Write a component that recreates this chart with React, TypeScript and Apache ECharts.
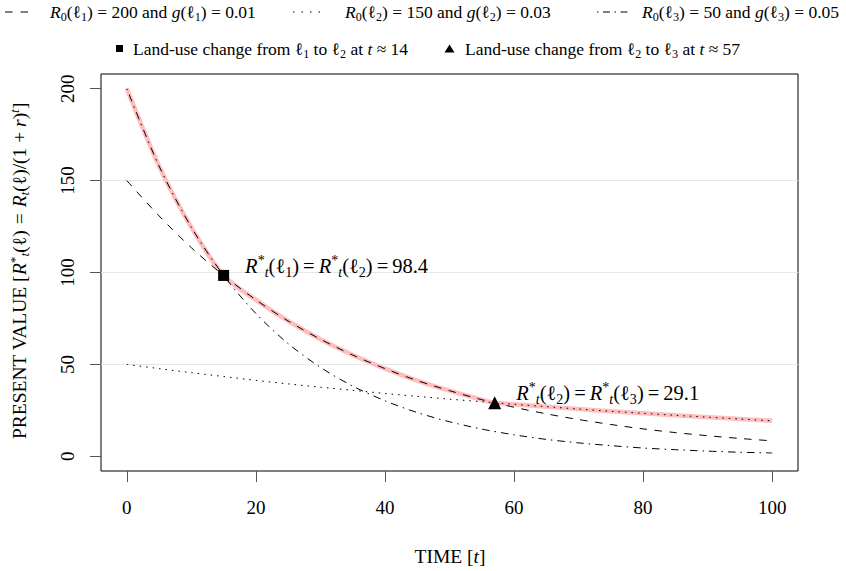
import React, { useEffect, useRef } from "react";
import * as echarts from "echarts";

// ---- data ----
const timeT = [0, 5, 10, 15, 20, 25, 30, 35, 40, 45, 50, 55, 60, 65, 70, 75, 80, 85, 90, 95, 100];
// R0 = 200 (fast decay, dash-dot)
const pvL1 = [200, 157.9, 124.6, 98.4, 77.7, 61.3, 48.4, 38.2, 30.2, 23.8, 18.8, 14.8, 11.7, 9.2, 7.3, 5.8, 4.5, 3.6, 2.8, 2.2, 1.8];
// R0 = 150 (dashed)
const pvL2 = [150, 130.8, 113.5, 98.4, 85.1, 73.6, 63.7, 55.1, 47.7, 41.2, 35.7, 30.8, 26.7, 23.1, 20.0, 17.3, 14.9, 12.9, 11.2, 9.7, 8.4];
// R0 = 50 (dotted)
const pvL3 = [50, 47.7, 45.5, 43.4, 41.3, 39.4, 37.6, 35.9, 34.2, 32.6, 31.1, 29.7, 28.3, 27.0, 25.7, 24.5, 23.4, 22.3, 21.3, 20.3, 19.3];
// land-use switch points
const switchT = [15, 57];
const switchPV = [98.4, 29.1];
const xTicks = [0, 20, 40, 60, 80, 100];
const yTicks = [0, 50, 100, 150, 200];

const FONT = "'Liberation Serif', 'DejaVu Serif', serif";
const FS_LEG = 17.5;
const FS_AX = 19;
const FS_TITLE = 19.5;
const FS_ANN = 20.5;

// colour key: "fill" for zrender graphic text, "color" for echarts labels
const makeRich = (fs: number, key: string, eqPad: number) => {
  const s = Math.round(fs * 0.69 * 10) / 10;
  const lh = Math.round(fs * 1.25);
  const c = { [key]: "#000" };
  return {
    n: { fontSize: fs, fontFamily: FONT, lineHeight: lh, ...c },
    it: { fontSize: fs, fontFamily: FONT, fontStyle: "italic", lineHeight: lh, ...c },
    eq: { fontSize: fs, fontFamily: FONT, lineHeight: lh, padding: [0, eqPad, 0, eqPad], ...c },
    sub: { fontSize: s, fontFamily: FONT, lineHeight: s, verticalAlign: "bottom", ...c },
    subit: { fontSize: s, fontFamily: FONT, fontStyle: "italic", lineHeight: s, verticalAlign: "bottom", ...c },
    sup: { fontSize: s, fontFamily: FONT, lineHeight: s, verticalAlign: "top", ...c },
    supit: { fontSize: s, fontFamily: FONT, fontStyle: "italic", lineHeight: s, verticalAlign: "top", ...c },
  } as any;
};

const richText = (x: number, y: number, text: string, fs: number, eqPad: number, extra: any = {}) => ({
  type: "text",
  x,
  y,
  silent: true,
  ...extra,
  style: {
    text,
    rich: makeRich(fs, "fill", eqPad),
    fontSize: fs,
    fontFamily: FONT,
    lineHeight: Math.round(fs * 1.25),
    fill: "#000",
    align: "left",
    verticalAlign: "middle",
    ...(extra.style || {}),
  },
});

export default function App() {
  const ref = useRef<HTMLDivElement>(null);

  useEffect(() => {
    const chart = echarts.init(ref.current!, null, { renderer: "svg" });

    const envelope: number[][] = timeT.map((t, i) => [t, Math.max(pvL1[i], pvL2[i], pvL3[i])]);
    switchT.forEach((t, i) => {
      if (!timeT.includes(t)) envelope.push([t, switchPV[i]]);
    });
    envelope.sort((a, b) => a[0] - b[0]);

    const annRich = makeRich(FS_ANN, "color", 4);
    const lbl1 =
      "{it|R}{sup|*}{subit|t}{n|(ℓ}{sub|1}{n|)}{eq|=}{it|R}{sup|*}{subit|t}{n|(ℓ}{sub|2}{n|)}{eq|=}{n|98.4}";
    const lbl2 =
      "{it|R}{sup|*}{subit|t}{n|(ℓ}{sub|2}{n|)}{eq|=}{it|R}{sup|*}{subit|t}{n|(ℓ}{sub|3}{n|)}{eq|=}{n|29.1}";

    const option: any = {
      animation: false,
      textStyle: { fontFamily: FONT },
      grid: {
        left: 101,
        top: 74,
        right: 48,
        bottom: 100,
        show: true,
        borderColor: "#000",
        borderWidth: 1,
        backgroundColor: "rgba(0,0,0,0)",
      },
      xAxis: {
        type: "value",
        min: -4,
        max: 104,
        axisLine: { show: false, onZero: false },
        axisTick: { show: true, customValues: xTicks, length: 11, lineStyle: { color: "#555" } },
        axisLabel: { customValues: xTicks, margin: 27, fontSize: FS_AX, color: "#000", fontFamily: FONT },
        splitLine: { show: false },
      },
      yAxis: {
        type: "value",
        min: -8,
        max: 208,
        axisLine: { show: false, onZero: false },
        axisTick: { show: true, customValues: yTicks, length: 11, lineStyle: { color: "#555" } },
        axisLabel: { customValues: yTicks, rotate: 90, margin: 24, fontSize: FS_AX, color: "#000", fontFamily: FONT },
        splitLine: {
          show: true,
          showMinLine: false,
          showMaxLine: false,
          lineStyle: { color: "#e6e6e6", width: 1 },
        },
      },
      series: [
        {
          type: "line",
          name: "envelope",
          data: envelope,
          showSymbol: false,
          smooth: 0.3,
          lineStyle: { color: "#ffbdbd", width: 4.5 },
          z: 2,
          silent: true,
        },
        {
          type: "line",
          name: "l1",
          data: timeT.map((t, i) => [t, pvL1[i]]),
          showSymbol: false,
          smooth: 0.3,
          lineStyle: { color: "#000", width: 1, type: [1.5, 5, 7.5, 5] },
          z: 3,
          silent: true,
        },
        {
          type: "line",
          name: "l2",
          data: timeT.map((t, i) => [t, pvL2[i]]),
          showSymbol: false,
          smooth: 0.3,
          lineStyle: { color: "#000", width: 1, type: [7.5, 7.5] },
          z: 3,
          silent: true,
        },
        {
          type: "line",
          name: "l3",
          data: timeT.map((t, i) => [t, pvL3[i]]),
          showSymbol: false,
          smooth: 0.3,
          lineStyle: { color: "#000", width: 1, type: [1.5, 5] },
          z: 3,
          silent: true,
        },
        {
          type: "scatter",
          name: "switch12",
          data: [[switchT[0], switchPV[0]]],
          symbol: "rect",
          symbolSize: 11,
          itemStyle: { color: "#000", opacity: 1 },
          z: 5,
          silent: true,
          label: {
            show: true,
            position: "right",
            distance: 16,
            offset: [0, -9],
            formatter: lbl1,
            rich: annRich,
          },
        },
        {
          type: "scatter",
          name: "switch23",
          data: [[switchT[1], switchPV[1]]],
          symbol: "triangle",
          symbolSize: 13,
          itemStyle: { color: "#000", opacity: 1 },
          z: 5,
          silent: true,
          label: {
            show: true,
            position: "right",
            distance: 15,
            offset: [0, -10],
            formatter: lbl2,
            rich: annRich,
          },
        },
      ],
      graphic: [
        // legend row 1
        { type: "line", silent: true, shape: { x1: 5, y1: 12, x2: 29, y2: 12 }, style: { stroke: "#000", lineWidth: 1, lineDash: [7.5, 8] } },
        richText(50, 12, "{it|R}{sub|0}(ℓ{sub|1}) = 200 and {it|g}(ℓ{sub|1}) = 0.01", FS_LEG, 2),
        { type: "line", silent: true, shape: { x1: 293, y1: 12, x2: 321, y2: 12 }, style: { stroke: "#000", lineWidth: 1, lineDash: [1.5, 7] } },
        richText(345, 12, "{it|R}{sub|0}(ℓ{sub|2}) = 150 and {it|g}(ℓ{sub|2}) = 0.03", FS_LEG, 2),
        { type: "line", silent: true, shape: { x1: 597, y1: 12, x2: 628, y2: 12 }, style: { stroke: "#000", lineWidth: 1, lineDash: [1.5, 4.5, 7, 4.5] } },
        richText(642, 12, "{it|R}{sub|0}(ℓ{sub|3}) = 50 and {it|g}(ℓ{sub|3}) = 0.05", FS_LEG, 2),
        // legend row 2
        { type: "rect", silent: true, shape: { x: 116, y: 45, width: 7, height: 7 }, style: { fill: "#000" } },
        richText(133, 49, "Land-use change from ℓ{sub|1} to ℓ{sub|2} at {it|t} ≈ 14", FS_LEG, 2),
        { type: "polygon", silent: true, shape: { points: [[449.5, 44.5], [454.5, 52.5], [444.5, 52.5]] }, style: { fill: "#000" } },
        richText(465, 49, "Land-use change from ℓ{sub|2} to ℓ{sub|3} at {it|t} ≈ 57", FS_LEG, 2),
        // axis titles
        richText(450, 556, "TIME [{it|t}]", FS_TITLE, 3, { style: { align: "center" } }),
        richText(
          19,
          271,
          "PRESENT VALUE [{it|R}{sup|*}{subit|t}(ℓ){eq|=}{it|R}{subit|t}(ℓ)/(1 + {it|r}){supit|t}]",
          FS_TITLE,
          6,
          { rotation: Math.PI / 2, style: { align: "center" } }
        ),
      ],
    };

    chart.setOption(option);
    return () => chart.dispose();
  }, []);

  return (
    <div
      ref={ref}
      style={{ position: "absolute", left: 0, top: 0, width: 846, height: 571, background: "#fff" }}
    />
  );
}
